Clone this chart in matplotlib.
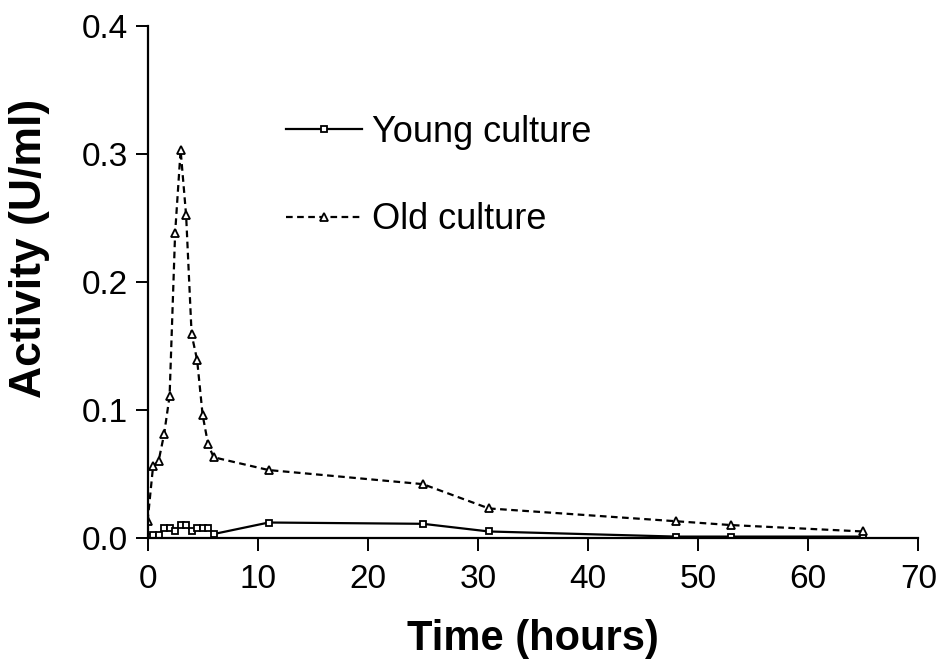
import matplotlib.pyplot as plt

plt.rcParams['font.family'] = ['Liberation Sans', 'DejaVu Sans']

# Время отбора проб (часы)
time_young = [0, 0.5, 1, 1.5, 2, 2.5, 3, 3.5, 4, 4.5, 5, 5.5, 6, 11, 25, 31, 48, 53, 65]
time_old = [0, 0.5, 1, 1.5, 2, 2.5, 3, 3.5, 4, 4.5, 5, 5.5, 6, 11, 25, 31, 48, 53, 65]

# Активность (U/ml)
activity_young = [0.001, 0.002, 0.002, 0.008, 0.008, 0.005, 0.010, 0.010, 0.005,
                  0.008, 0.008, 0.008, 0.003, 0.012, 0.011, 0.005, 0.001, 0.001, 0.001]
activity_old = [0.013, 0.056, 0.060, 0.081, 0.111, 0.238, 0.303, 0.252, 0.159,
                0.139, 0.096, 0.073, 0.063, 0.053, 0.042, 0.023, 0.013, 0.010, 0.005]

x_ticks = [0, 10, 20, 30, 40, 50, 60, 70]
y_ticks = [0.0, 0.1, 0.2, 0.3, 0.4]

fig = plt.figure(figsize=(9.4, 6.69), dpi=100)
ax = fig.add_axes([0.157, 0.196, 0.82, 0.765])

ax.plot(time_young, activity_young, color='black', linestyle='-', linewidth=1.6,
        marker='s', markersize=5, markerfacecolor='white', markeredgewidth=1.3,
        label='Young culture')
ax.plot(time_old, activity_old, color='black', linestyle=(0, (3, 2)), linewidth=1.6,
        marker='^', markersize=6, markerfacecolor='white', markeredgewidth=1.3,
        label='Old culture')

ax.set_xlim(0, 70)
ax.set_ylim(0, 0.4)
ax.set_xticks(x_ticks)
ax.set_yticks(y_ticks)
ax.set_xticklabels([str(t) for t in x_ticks])
ax.set_yticklabels(['{:.1f}'.format(t) for t in y_ticks])

ax.spines['top'].set_visible(False)
ax.spines['right'].set_visible(False)
ax.spines['left'].set_linewidth(1.6)
ax.spines['bottom'].set_linewidth(1.6)
ax.tick_params(axis='both', direction='out', length=9, width=1.4, labelsize=24)
ax.tick_params(axis='x', pad=10)
ax.tick_params(axis='y', pad=5)

ax.set_xlabel('Time (hours)', fontsize=30, fontweight='bold', labelpad=17)
ax.set_ylabel('Activity (U/ml)', fontsize=32, fontweight='bold')
# подпись оси Y чуть выше центра, как в оригинале
ax.yaxis.set_label_coords(-0.127, 0.566)

ax.legend(loc='upper left', bbox_to_anchor=(0.137, 0.89), frameon=False,
          fontsize=26, handlelength=2.1, labelspacing=1.45, handletextpad=0.3,
          markerscale=0.9)

fig.savefig('out.png', dpi=100)
